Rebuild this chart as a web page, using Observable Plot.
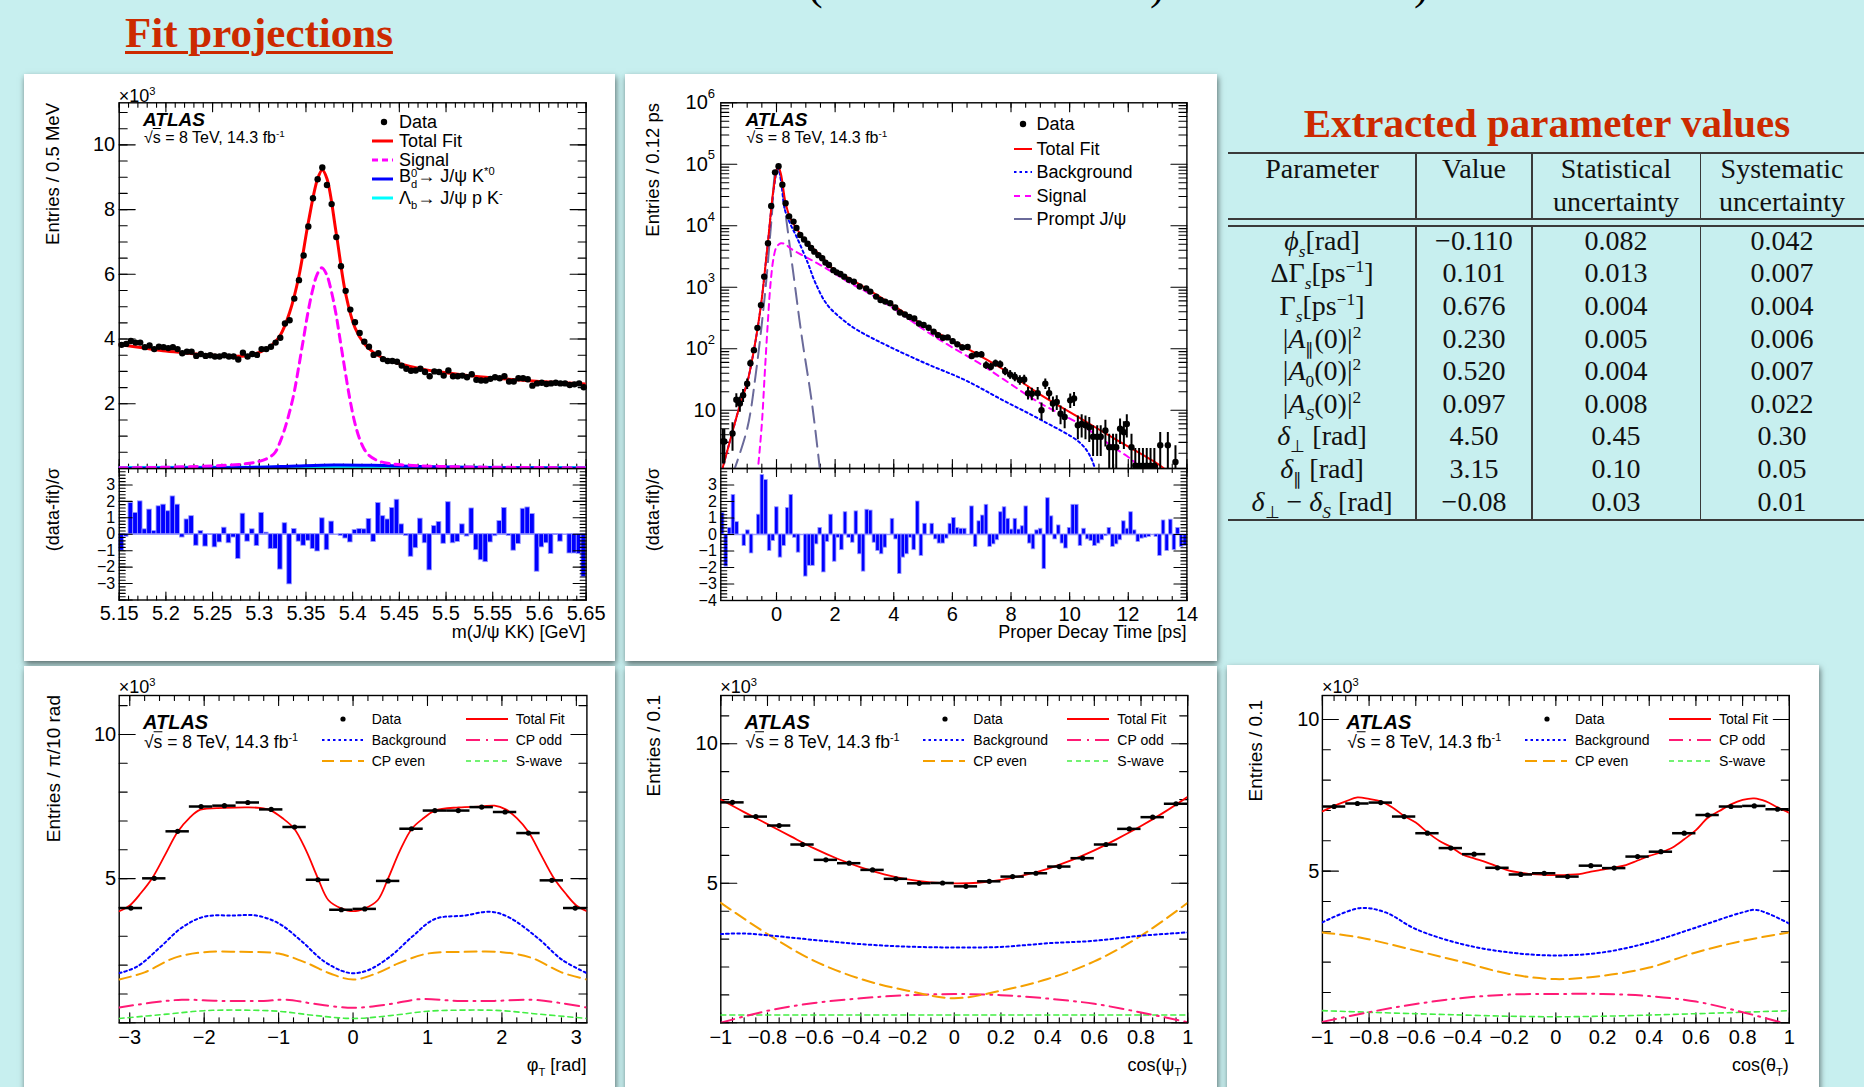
<!DOCTYPE html>
<html><head><meta charset="utf-8">
<script src="https://cdn.jsdelivr.net/npm/d3@7"></script>
<script src="https://cdn.jsdelivr.net/npm/@observablehq/plot@0.6"></script>
<style>
html,body{margin:0;padding:0}
body{width:1864px;height:1087px;overflow:hidden;background:#c7efef;position:relative;font-family:"Liberation Sans",Arial,sans-serif;color:#000}
.box{position:absolute;background:#fff;box-shadow:1px 3px 6px rgba(0,0,0,0.55)}
.t{position:absolute;white-space:nowrap;line-height:1}
.lv{transform:translateY(-50%)}
.rv{transform:translate(-100%,-50%)}
.cc{transform:translate(-50%,-50%)}
.rot{transform-origin:0 0;transform:rotate(-90deg) translate(-100%,-50%)}
.t sup,.t sub{font-size:0.62em;line-height:0}
.st{display:inline-block;font-size:0.62em;line-height:1;vertical-align:-6px}
.serif{font-family:"Liberation Serif","Times New Roman",serif;font-size:28px;color:#111}
.hl{position:absolute;background:#3a3a3a}
.atlas{font-weight:bold;font-style:italic}
svg{overflow:visible}
</style></head><body>
<script>
// ===================== DATA =====================
// Panel 1 : m(J/psi KK)
const massBinLo = 5.15, massBinWidth = 0.005;
const massCounts = [3.82,3.85,3.94,3.89,3.89,3.75,3.80,3.69,3.76,3.75,3.72,3.75,3.69,3.56,3.61,3.61,3.48,3.54,3.48,3.50,
  3.46,3.46,3.50,3.46,3.46,3.37,3.58,3.46,3.54,3.51,3.69,3.69,3.76,3.89,4.04,4.48,4.58,5.25,5.82,6.58,
  7.48,8.35,8.94,9.30,8.76,8.17,7.15,6.25,5.49,4.91,4.52,4.19,3.92,3.76,3.51,3.56,3.38,3.32,3.32,3.30,
  3.18,3.08,3.02,3.03,3.08,2.98,2.85,3.00,2.98,2.87,3.03,2.85,2.85,2.87,2.82,2.91,2.74,2.72,2.72,2.77,
  2.82,2.79,2.85,2.69,2.69,2.79,2.79,2.76,2.56,2.63,2.65,2.61,2.63,2.65,2.63,2.63,2.58,2.60,2.63,2.51];
const massFitX = [5.15,5.175,5.20,5.225,5.25,5.275,5.29,5.3025,5.3125,5.3225,5.3325,5.3425,5.3525,5.3625,5.3675,5.3725,5.3825,5.3925,5.4025,5.4125,5.4225,5.435,5.45,5.475,5.50,5.525,5.55,5.575,5.60,5.625,5.65];
const massFitY = [3.83,3.73,3.63,3.56,3.50,3.47,3.50,3.62,3.78,4.12,4.82,5.95,7.60,8.95,9.22,8.95,7.25,5.40,4.35,3.85,3.58,3.38,3.24,3.07,2.96,2.87,2.80,2.74,2.69,2.65,2.61];
const massSigX = [5.15,5.20,5.25,5.28,5.30,5.31,5.317,5.322,5.327,5.332,5.337,5.342,5.347,5.352,5.357,5.362,5.367,5.372,5.377,5.382,5.387,5.392,5.397,5.402,5.407,5.412,5.417,5.427,5.44,5.46,5.50,5.55,5.60,5.65];
const massSigY = [0.02,0.04,0.08,0.13,0.22,0.33,0.5,0.8,1.2,1.7,2.3,3.1,3.95,4.8,5.5,6.0,6.2,6.0,5.5,4.8,3.9,3.0,2.15,1.45,0.95,0.62,0.42,0.24,0.15,0.1,0.06,0.04,0.03,0.02];
const massBdX = [5.15,5.25,5.30,5.34,5.38,5.42,5.46,5.52,5.58,5.65];
const massBdY = [0.01,0.02,0.04,0.08,0.11,0.10,0.07,0.04,0.02,0.01];
const massLbX = [5.15,5.30,5.45,5.65];
const massLbY = [0.03,0.04,0.04,0.03];
const massPull = [-1.0,-0.15,1.9,1.3,2.0,0.3,1.5,0.2,1.7,1.8,1.4,2.3,1.8,-0.2,0.9,1.1,-0.7,0.2,-0.75,-0.05,
  -0.8,-0.5,0.4,-0.55,-0.2,-1.5,1.25,-0.45,0.3,-0.72,1.3,0.1,-0.9,-0.9,-2.15,0.67,-3.05,0.32,-0.45,-0.7,
  -0.4,-0.9,-1.05,0.97,-0.97,0.77,0,-0.1,-0.26,-0.5,0.26,0.32,0.3,0.93,-0.47,1.9,1.1,0.9,1.6,2.1,
  0.6,-0.1,-1.37,-0.85,0.95,-0.55,-2.2,0.5,0.75,-0.58,1.95,-0.55,-0.47,0.6,-0.14,1.57,-0.97,-1.58,-1.7,-0.5,
  -0.12,0.8,1.6,-0.1,-1.0,-0.6,1.55,1.63,1.23,-2.28,-0.8,-0.55,-1.2,-0.05,-0.45,0,-1.17,-1.17,-1.2,-2.6];

// Panel 2 : proper decay time
const timeData = [-1.83,-1.78,-1.50,-1.37,-1.25,-1.14,-1.00,-0.89,-0.77,-0.65,-0.53,-0.42,-0.29,-0.18,-0.05,0.07,0.20,0.31,0.43,0.58,
  0.68,0.81,0.94,1.06,1.18,1.29,1.43,1.56,1.67,1.79,1.94,2.05,2.18,2.31,2.47,2.64,2.84,3.06,3.20,3.40,
  3.55,3.71,3.88,4.05,4.21,4.38,4.53,4.70,4.86,5.02,5.19,5.36,5.51,5.68,5.84,6.01,6.17,6.34,6.52,6.66,
  6.82,6.99,7.15,7.31,7.47,7.63,7.80,7.97,8.13,8.30,8.45,8.58,8.71,8.91,9.04,9.17,9.30,9.43,9.56,9.69,
  9.83,10.02,10.15,10.28,10.41,10.54,10.67,10.80,10.94,11.06,11.22,11.35,11.48,11.59,11.72,11.85,11.95,12.11,12.24,12.37,
  12.50,12.63,12.76,12.89,13.09,13.35,13.61];
const timeCounts = [3.1,3.1,4.2,14.8,12.9,17.6,27,58,95,219,513,1490,5200,21000,74000,93000,46500,23300,14200,11700,
  9200,7100,6000,5100,4350,3800,3330,2970,2520,2300,1900,1750,1640,1490,1320,1230,1030,960,850,705,
  620,585,550,470,390,360,330,310,257,243,220,190,167,151,153,133,118,105,107,76,
  81,81,54,51,58,56,43,38,35,31,31.6,19,18.6,19,10,27,19,12.9,13.6,8.8,
  7.8,14.5,15.5,5.7,6,5.7,5.3,3.7,3.7,3.7,4.7,2.5,2.5,2.5,5.0,4.4,6,2.5,1.26,1.26,
  1.26,1.26,1.26,1.26,2.7,2.7,1.44];
const timeFitX = [-1.9,-1.5,-1.25,-1.0,-0.77,-0.53,-0.3,-0.1,0.05,0.15,0.3,0.45,0.7,1.0,1.5,2.0,2.5,3.0,3.8,4.5,5.13,6.0,6.44,7.0,7.74,8.5,9.04,10.34,11.6,13.0,13.3];
const timeFitY = [0.9,4.5,12,28,95,510,5000,40000,95000,70000,25000,14000,8800,5600,3300,1850,1380,1000,580,350,225,135,105,74,46,26,17.5,7.5,3.3,1.35,1.05];
const timeBkgX = [-1.9,-1.5,-1.25,-1.0,-0.77,-0.53,-0.3,-0.1,0.05,0.15,0.29,0.5,0.68,1.07,1.33,1.73,2.25,2.77,3.82,5.12,6.43,7.73,9.04,10.34,10.7,10.9];
const timeBkgY = [0.9,4.5,12,28,95,510,5000,38000,90000,55000,18000,10000,6700,2470,1170,520,300,200,110,57,31,14.5,6.9,3.0,1.8,1.0];
const timeSigX = [-0.65,-0.5,-0.4,-0.3,-0.2,-0.1,0.0,0.15,0.3,0.5,1.0,1.5,2.0,2.5,3.0,4.0,5.13,6.0,7.0,7.74,9.0,10.34,11.5,12.17,12.5];
const timeSigY = [0.9,6,40,250,1200,3000,4500,5200,5000,4200,3100,2300,1650,1180,880,450,190,105,55,32,13,6,2.5,1.5,1.0];
const timePromptX = [-1.5,-1.0,-0.69,-0.37,-0.17,0.0,0.1,0.29,0.56,0.86,1.21,1.5];
const timePromptY = [0.9,5,45,1000,12600,85000,75000,18000,1900,160,13,0.9];
const timeBinLo = -1.9, timeBinWidth = 0.1233;
const timePull = [1.3,-1.95,0.4,2.4,0.75,0,-0.7,0.25,-1.15,0,1.2,3.6,3.3,-1.0,-0.4,1.65,-1.4,-0.7,1.6,2.4,
  -0.2,-1.1,0,-2.55,-1.9,-1.9,-0.6,0.4,-2.3,-0.45,1.2,-1.65,-0.2,-0.95,1.35,-0.2,-0.5,1.4,-1.2,-2.25,
  1.5,1.45,-0.5,-1.0,-1.2,-0.8,0,0.95,-0.3,-2.4,-1.4,-1.2,-0.2,-0.95,2.0,-1.3,0.65,0,0.65,-0.3,
  -0.55,-0.55,-0.25,0.65,1.0,0.4,0.35,0.35,0,1.7,-0.75,0.8,1.15,1.8,-0.75,-0.6,-0.35,1.35,1.65,0.95,
  0.3,0.95,0.3,0.5,1.7,-0.55,-0.9,0.25,0.35,-2.1,2.2,1.1,-0.3,0.55,-0.55,-0.85,0.4,1.8,1.8,-0.7,
  0.35,-0.3,-0.4,-0.7,-0.55,-0.35,-0.1,0.4,-0.75,-0.6,-0.35,0.8,0.35,1.35,0.25,-0.45,-0.25,-0.2,-0.15,0,
  -0.15,-1.3,0.85,-1.0,0.9,-0.95,0.4,-0.75,-0.7];

// Panel 3 : phi_T
const phiBinLo = -Math.PI, phiBinWidth = Math.PI / 10;
const phiCounts = [3.98,5.01,6.64,7.50,7.53,7.64,7.40,6.79,4.96,3.92,3.95,4.92,6.73,7.36,7.36,7.48,7.31,6.58,4.94,3.98];
const phiFitX = [-3.1416,-3.0,-2.85,-2.69,-2.52,-2.36,-2.2,-2.05,-1.73,-1.42,-1.25,-1.1,-0.95,-0.79,-0.63,-0.47,-0.33,-0.16,0,0.16,0.33,0.47,0.63,0.79,0.95,1.1,1.42,1.73,1.9,2.05,2.2,2.36,2.52,2.69,2.85,3.0,3.1416];
const phiFitY = [3.87,4.07,4.5,5.05,5.85,6.61,7.1,7.39,7.45,7.47,7.45,7.36,7.1,6.73,5.97,5.0,4.25,3.97,3.87,3.97,4.25,5.0,5.97,6.73,7.1,7.36,7.47,7.5,7.53,7.4,7.1,6.61,5.85,5.05,4.5,4.07,3.87];
const phiBkgX = [-3.1416,-2.9,-2.6,-2.3,-2.0,-1.6,-1.3,-1.0,-0.7,-0.4,-0.15,0,0.2,0.5,0.8,1.1,1.5,1.85,2.1,2.5,2.8,3.1416];
const phiBkgY = [1.72,1.95,2.6,3.3,3.68,3.72,3.72,3.45,2.85,2.15,1.8,1.72,1.82,2.3,3.0,3.6,3.72,3.85,3.65,2.9,2.2,1.72];
const phiEvenX = [-3.1416,-2.8,-2.4,-2.0,-1.5,-1.0,-0.6,-0.3,0,0.3,0.6,1.0,1.5,2.0,2.4,2.8,3.1416];
const phiEvenY = [1.5,1.75,2.25,2.45,2.46,2.4,2.05,1.7,1.5,1.7,2.05,2.4,2.46,2.45,2.25,1.75,1.5];
const phiOddX = [-3.1416,-2.7,-2.3,-1.8,-1.2,-0.9,-0.5,0,0.5,0.9,1.4,1.9,2.4,2.8,3.1416];
const phiOddY = [0.53,0.7,0.8,0.76,0.76,0.8,0.65,0.52,0.65,0.82,0.76,0.76,0.8,0.68,0.53];
const phiSwX = [-3.1416,-2.5,-2.0,-1.5,-1.0,-0.5,0,0.5,1.0,1.5,2.0,2.5,3.1416];
const phiSwY = [0.15,0.3,0.42,0.44,0.4,0.25,0.15,0.25,0.4,0.44,0.42,0.3,0.15];

// Panel 4 : cos(psi_T)
const cosBinLo = -1, cosBinWidth = 0.1;
const psiCounts = [7.90,7.39,7.07,6.39,5.84,5.72,5.48,5.16,5.00,5.01,4.89,5.07,5.24,5.36,5.60,5.90,6.39,6.95,7.37,7.85];
const psiFitX = [-1,-0.9,-0.8,-0.7,-0.6,-0.5,-0.4,-0.3,-0.2,-0.1,0,0.1,0.2,0.3,0.4,0.5,0.6,0.7,0.8,0.9,1];
const psiFitY = [8.0,7.55,7.12,6.68,6.25,5.88,5.57,5.32,5.14,5.03,5.0,5.02,5.12,5.29,5.52,5.82,6.18,6.6,7.05,7.55,8.1];
const psiBkgX = [-1,-0.9,-0.6,-0.4,-0.2,0,0.2,0.4,0.6,0.8,1];
const psiBkgY = [3.18,3.2,2.97,2.82,2.73,2.7,2.72,2.85,2.94,3.12,3.24];
const psiEvenX = [-1,-0.8,-0.6,-0.4,-0.2,0,0.2,0.4,0.6,0.8,1];
const psiEvenY = [4.3,3.18,2.22,1.57,1.15,0.88,1.15,1.57,2.2,3.12,4.3];
const psiOddX = [-1,-0.8,-0.6,-0.4,-0.2,0,0.2,0.4,0.6,0.8,1];
const psiOddY = [0.0,0.43,0.71,0.88,0.99,1.03,0.99,0.87,0.68,0.37,0.02];
const psiSwX = [-1,1];
const psiSwY = [0.28,0.28];

// Panel 5 : cos(theta_T)
const thCounts = [7.13,7.23,7.26,6.80,6.25,5.76,5.56,5.11,4.89,4.93,4.82,5.18,5.10,5.48,5.64,6.25,6.85,7.13,7.15,7.04];
const thFitX = [-1,-0.95,-0.9,-0.85,-0.8,-0.75,-0.7,-0.65,-0.6,-0.55,-0.5,-0.45,-0.4,-0.35,-0.3,-0.25,-0.2,-0.15,-0.1,-0.05,0,0.05,0.1,0.15,0.2,0.25,0.3,0.35,0.4,0.45,0.5,0.55,0.6,0.65,0.7,0.75,0.8,0.85,0.9,0.95,1];
const thFitY = [6.97,7.15,7.3,7.43,7.38,7.3,7.1,6.82,6.6,6.28,6.0,5.8,5.55,5.42,5.3,5.15,5.02,4.95,4.9,4.88,4.87,4.88,4.9,4.98,5.05,5.12,5.2,5.35,5.5,5.62,5.78,6.05,6.35,6.75,6.98,7.2,7.35,7.4,7.3,7.1,6.92];
const thBkgX = [-1,-0.84,-0.73,-0.6,-0.4,-0.2,0,0.2,0.4,0.6,0.8,0.86,1];
const thBkgY = [3.31,3.78,3.64,3.09,2.59,2.32,2.22,2.32,2.65,3.14,3.64,3.72,3.27];
const thEvenX = [-1,-0.84,-0.6,-0.4,-0.2,0,0.2,0.4,0.6,0.8,1];
const thEvenY = [2.98,2.81,2.38,2.0,1.61,1.44,1.55,1.82,2.32,2.7,2.98];
const thOddX = [-1,-0.8,-0.6,-0.4,-0.2,0,0.2,0.4,0.6,0.8,0.97];
const thOddY = [0.03,0.35,0.62,0.82,0.93,0.95,0.95,0.88,0.7,0.35,0.0];
const thSwX = [-1,-0.6,0,0.6,1];
const thSwY = [0.4,0.3,0.2,0.3,0.4];

// Table
const tableParams = ["<i>ϕ</i><sub><i>s</i></sub>[rad]", "ΔΓ<sub><i>s</i></sub>[ps<sup>−1</sup>]", "Γ<sub><i>s</i></sub>[ps<sup>−1</sup>]",
  "|<i>A</i><sub>∥</sub>(0)|<sup>2</sup>", "|<i>A</i><sub>0</sub>(0)|<sup>2</sup>", "|<i>A</i><sub><i>S</i></sub>(0)|<sup>2</sup>",
  "<i>δ</i><sub>⊥</sub> [rad]", "<i>δ</i><sub>∥</sub> [rad]", "<i>δ</i><sub>⊥</sub> − <i>δ</i><sub><i>S</i></sub> [rad]"];
const tableValues = ["−0.110","0.101","0.676","0.230","0.520","0.097","4.50","3.15","−0.08"];
const tableStat = ["0.082","0.013","0.004","0.005","0.004","0.008","0.45","0.10","0.03"];
const tableSyst = ["0.042","0.007","0.004","0.006","0.007","0.022","0.30","0.05","0.01"];

// ===================== HELPERS =====================
const FONT = '"Liberation Sans", Arial, sans-serif';
const fmt = d3.format("~g");
const RED = "#ff0000", MAG = "#ff00ff", BLUE = "#0000ff", CYAN = "#00ffff", PROMPT = "#6a6a9a",
      ORANGE = "#f5a000", PINK = "#ff1a75", GREEN = "#44ee44";
const tickShape = {draw(c, l) { c.moveTo(0, 0); c.lineTo(0, -l); }};

function frameTicks({xMaj = [], xMin = [], yMaj = [], yMin = [], xl = [9, 4.5], yl = [16, 8]}) {
  const V = (data, o) => Plot.vector(data, {...o, anchor: "start", shape: tickShape, stroke: "black", strokeWidth: 1.1});
  const out = [];
  [[xMaj, xl[0]], [xMin, xl[1]]].forEach(([a, l]) => {
    out.push(V(a, {x: d => d, frameAnchor: "bottom", rotate: 0, length: l}));
    out.push(V(a, {x: d => d, frameAnchor: "top", rotate: 180, length: l}));
  });
  [[yMaj, yl[0]], [yMin, yl[1]]].forEach(([a, l]) => {
    out.push(V(a, {y: d => d, frameAnchor: "left", rotate: 90, length: l}));
    out.push(V(a, {y: d => d, frameAnchor: "right", rotate: 270, length: l}));
  });
  return out;
}
function mk(o) {
  const svg = Plot.plot({
    width: o.width, height: o.height,
    marginLeft: o.ml, marginRight: o.mr, marginTop: o.mt, marginBottom: o.mb,
    x: o.x, y: o.y,
    style: {background: "transparent", overflow: "visible", fontFamily: FONT, fontSize: "20px", color: "black"},
    marks: o.marks
  });
  Object.assign(svg.style, {position: "absolute", left: o.left + "px", top: o.top + "px"});
  document.body.appendChild(svg);
}
function box(x, y, w, h) {
  const d = document.createElement("div"); d.className = "box";
  d.style.cssText = `left:${x}px;top:${y}px;width:${w}px;height:${h}px`;
  document.body.appendChild(d);
}
function T(html, x, y, cls = "lv", style = "") {
  const d = document.createElement("div");
  d.className = "t " + cls;
  d.style.cssText = `left:${x}px;top:${y}px;${style}`;
  d.innerHTML = html;
  document.body.appendChild(d);
}
function swLine(x1, x2, y, color, dash, w) {
  document.body.insertAdjacentHTML("beforeend",
    `<svg width="${x2 - x1}" height="12" style="position:absolute;left:${x1}px;top:${y - 6}px"><line x1="0" y1="6" x2="${x2 - x1}" y2="6" stroke="${color}" stroke-width="${w}" ${dash ? `stroke-dasharray="${dash}"` : ""}/></svg>`);
}
function swDot(cx, y, r) {
  document.body.insertAdjacentHTML("beforeend",
    `<svg width="12" height="12" style="position:absolute;left:${cx - 6}px;top:${y - 6}px"><circle cx="6" cy="6" r="${r}" fill="black"/></svg>`);
}
const idx = a => a.map((_, i) => i);
const range = (a, b, s) => d3.range(a, b + s * 1e-3, s);

// ===================== PAGE DECORATION =====================
T("(", 808, -37, "", 'font-family:"Liberation Serif",serif;font-size:44px');
T(")", 1150, -37, "", 'font-family:"Liberation Serif",serif;font-size:44px');
T(")", 1414, -37, "", 'font-family:"Liberation Serif",serif;font-size:44px');
T("Fit projections", 125, 11, "", 'font-family:"Liberation Serif",serif;font-size:43px;font-weight:bold;color:#cc2a00;text-decoration:underline;text-decoration-thickness:3px;text-underline-offset:4px');

box(24, 74, 591, 587);
box(625, 74, 592, 587);
box(24, 666, 591, 430);
box(625, 666, 592, 430);
box(1227, 665, 592, 430);

// ===================== PANEL 1 =====================
const massX = massCounts.map((_, i) => massBinLo + (i + 0.5) * massBinWidth);
mk({left: 24, top: 74, width: 591, height: 394, ml: 94.7, mr: 29.4, mt: 28.3, mb: 0,
  x: {domain: [5.15, 5.65], axis: null}, y: {domain: [0, 11.3]},
  marks: [
    Plot.frame({stroke: "black", strokeWidth: 1.4}),
    ...frameTicks({xMaj: range(5.15, 5.65, 0.05), xMin: range(5.15, 5.65, 0.01), yMaj: [0, 2, 4, 6, 8, 10], yMin: range(0, 11, 0.5)}),
    Plot.axisY({ticks: [2, 4, 6, 8, 10], tickSize: 0, tickPadding: 4, tickFormat: fmt, fontSize: 20, label: null}),
    Plot.line(massLbX, {x: massLbX, y: massLbY, stroke: CYAN, strokeWidth: 3, curve: "catmull-rom", clip: true}),
    Plot.line(massBdX, {x: massBdX, y: massBdY, stroke: BLUE, strokeWidth: 3, curve: "catmull-rom", clip: true}),
    Plot.line(massSigX, {x: massSigX, y: massSigY, stroke: MAG, strokeWidth: 3, strokeDasharray: "8,6", curve: "catmull-rom", clip: true}),
    Plot.line(massFitX, {x: massFitX, y: massFitY, stroke: RED, strokeWidth: 3, curve: "catmull-rom", clip: true}),
    Plot.dot(massCounts, {x: massX, y: massCounts, r: 3.2, fill: "black"})
  ]});
mk({left: 24, top: 468, width: 591, height: 195, ml: 94.7, mr: 29.4, mt: 0, mb: 63.5,
  x: {domain: [5.15, 5.65]}, y: {domain: [-4, 4]},
  marks: [
    Plot.ruleY([0], {stroke: "#9a9aff", strokeWidth: 1.5}),
    Plot.rect(massPull, {x1: idx(massPull).map(i => massBinLo + i * massBinWidth), x2: idx(massPull).map(i => massBinLo + (i + 1) * massBinWidth),
      y1: 0, y2: massPull, fill: BLUE, stroke: "#9a9aff", strokeWidth: 0.8}),
    Plot.frame({stroke: "black", strokeWidth: 1.4}),
    ...frameTicks({xMaj: range(5.15, 5.65, 0.05), xMin: range(5.15, 5.65, 0.01), yMaj: range(-4, 4, 1), yMin: range(-4, 4, 0.2), xl: [8, 4], yl: [13, 6]}),
    Plot.axisX({ticks: [5.15, 5.2, 5.25, 5.3, 5.35, 5.4, 5.45, 5.5, 5.55, 5.6, 5.65], tickSize: 0, tickPadding: 6, tickFormat: fmt, fontSize: 20, label: null}),
    Plot.axisY({ticks: [-3, -2, -1, 0, 1, 2, 3], tickSize: 0, tickPadding: 4, tickFormat: fmt, fontSize: 16, label: null})
  ]});
T("×10<sup>3</sup>", 118.7, 96, "lv", "font-size:18px");
T("ATLAS", 143, 119.3, "lv atlas", "font-size:19px");
T("√<span style='text-decoration:overline'>s</span> = 8 TeV, 14.3 fb<sup>-1</sup>", 144, 138.3, "lv", "font-size:16px");
{
  const ys = [122.3, 140.7, 160, 179.3, 197.7];
  swDot(383.5, ys[0], 3.2); T("Data", 399, ys[0], "lv", "font-size:18px");
  swLine(372, 393, ys[1], RED, null, 3); T("Total Fit", 399, ys[1], "lv", "font-size:18px");
  swLine(372, 393, ys[2], MAG, "6,4", 3); T("Signal", 399, ys[2], "lv", "font-size:18px");
  swLine(372, 393, ys[3], BLUE, null, 3); T("B<span class='st'>0<br>d</span>→ J/ψ K<sup>*0</sup>", 399, ys[3], "lv", "font-size:18px");
  swLine(372, 393, ys[4], CYAN, null, 3); T("Λ<sub>b</sub>→ J/ψ p K<sup>-</sup>", 399, ys[4], "lv", "font-size:18px");
}
T("Entries / 0.5 MeV", 52.5, 103.3, "rot", "font-size:18.5px");
T("(data-fit)/σ", 52.5, 468.3, "rot", "font-size:18px");
T("m(J/ψ KK) [GeV]", 585.6, 631.7, "rv", "font-size:18px");

// ===================== PANEL 2 =====================
const logMinor = [];
for (let e = 0; e < 6; e++) for (let k = 2; k <= 9; k++) { const v = k * 10 ** e; if (v > 1.13) logMinor.push(v); }
const decadesExp = [100, 1000, 1e4, 1e5, 1e6];
mk({left: 625, top: 74, width: 592, height: 394, ml: 95.3, mr: 30.6, mt: 28.3, mb: 0,
  x: {domain: [-1.9, 14], axis: null}, y: {type: "log", domain: [1.13, 1e6], axis: null},
  marks: [
    Plot.frame({stroke: "black", strokeWidth: 1.4}),
    ...frameTicks({xMaj: range(0, 14, 2), xMin: range(-1.5, 14, 0.5), yMaj: [10, 100, 1000, 1e4, 1e5, 1e6], yMin: logMinor}),
    Plot.text(decadesExp, {y: d => d, frameAnchor: "left", text: () => "10", textAnchor: "end", dx: -13, fontSize: 20}),
    Plot.text(decadesExp, {y: d => d, frameAnchor: "left", text: d => String(Math.round(Math.log10(d))), textAnchor: "start", dx: -13, dy: -9, fontSize: 13}),
    Plot.text([10], {y: d => d, frameAnchor: "left", text: () => "10", textAnchor: "end", dx: -5, fontSize: 20}),
    Plot.line(timePromptX, {x: timePromptX, y: timePromptY, stroke: PROMPT, strokeWidth: 2, strokeDasharray: "16,8", curve: "catmull-rom", clip: true}),
    Plot.line(timeSigX, {x: timeSigX, y: timeSigY, stroke: MAG, strokeWidth: 2, strokeDasharray: "6,5", curve: "catmull-rom", clip: true}),
    Plot.line(timeBkgX, {x: timeBkgX, y: timeBkgY, stroke: BLUE, strokeWidth: 2, strokeDasharray: "2.5,3", curve: "catmull-rom", clip: true}),
    Plot.line(timeFitX, {x: timeFitX, y: timeFitY, stroke: RED, strokeWidth: 2, curve: "catmull-rom", clip: true}),
    Plot.ruleX(timeCounts, {x: timeData, y1: timeCounts.map(v => v - Math.sqrt(v)), y2: timeCounts.map(v => v + Math.sqrt(v)), stroke: "black", strokeWidth: 2, clip: true}),
    Plot.dot(timeCounts, {x: timeData, y: timeCounts, r: 3.2, fill: "black", clip: true})
  ]});
mk({left: 625, top: 468, width: 592, height: 195, ml: 95.3, mr: 30.6, mt: 0, mb: 63,
  x: {domain: [-1.9, 14]}, y: {domain: [-4, 4]},
  marks: [
    Plot.ruleY([0], {stroke: "#9a9aff", strokeWidth: 1.5}),
    Plot.rect(timePull, {x1: idx(timePull).map(i => timeBinLo + i * timeBinWidth), x2: idx(timePull).map(i => timeBinLo + (i + 1) * timeBinWidth),
      y1: 0, y2: timePull, fill: BLUE, stroke: "#9a9aff", strokeWidth: 0.8}),
    Plot.frame({stroke: "black", strokeWidth: 1.4}),
    ...frameTicks({xMaj: range(0, 14, 2), xMin: range(-1.5, 14, 0.5), yMaj: range(-4, 4, 1), yMin: range(-4, 4, 0.2), xl: [8, 4], yl: [13, 6]}),
    Plot.axisX({ticks: range(0, 14, 2), tickSize: 0, tickPadding: 6, tickFormat: fmt, fontSize: 20, label: null}),
    Plot.axisY({ticks: [-4, -3, -2, -1, 0, 1, 2, 3], tickSize: 0, tickPadding: 4, tickFormat: fmt, fontSize: 16, label: null})
  ]});
T("ATLAS", 745.5, 119.3, "lv atlas", "font-size:19px");
T("√<span style='text-decoration:overline'>s</span> = 8 TeV, 14.3 fb<sup>-1</sup>", 746.5, 138.3, "lv", "font-size:16px");
{
  const ys = [124.3, 149, 172.3, 196, 219];
  swDot(1022.6, ys[0], 3.2); T("Data", 1036.4, ys[0], "lv", "font-size:18px");
  swLine(1014, 1032, ys[1], RED, null, 2); T("Total Fit", 1036.4, ys[1], "lv", "font-size:18px");
  swLine(1014, 1032, ys[2], BLUE, "2.5,3", 2); T("Background", 1036.4, ys[2], "lv", "font-size:18px");
  swLine(1014, 1032, ys[3], MAG, "6,5", 2); T("Signal", 1036.4, ys[3], "lv", "font-size:18px");
  swLine(1014, 1032, ys[4], PROMPT, null, 2); T("Prompt J/ψ", 1036.4, ys[4], "lv", "font-size:18px");
}
T("Entries / 0.12 ps", 652.5, 103.3, "rot", "font-size:18.5px");
T("(data-fit)/σ", 652.5, 468.3, "rot", "font-size:18px");
T("Proper Decay Time [ps]", 1186.4, 631.7, "rv", "font-size:18px");

// ===================== ANGULAR PANELS =====================
function angPanel(o) {
  const frameT = 695, frameB = 1022.3, svgTop = 666, svgH = 421;
  const xc = o.counts.map((_, i) => o.lo + (i + 0.5) * o.w);
  const x1 = o.counts.map((_, i) => o.lo + i * o.w);
  const x2 = o.counts.map((_, i) => o.lo + (i + 1) * o.w);
  mk({left: o.svgLeft, top: svgTop, width: o.svgW, height: svgH, ml: o.L - o.svgLeft, mr: o.svgLeft + o.svgW - o.R, mt: frameT - svgTop, mb: svgTop + svgH - frameB,
    x: {domain: o.xDomain}, y: {domain: o.yDomain},
    marks: [
      Plot.frame({stroke: "black", strokeWidth: 1.4}),
      ...frameTicks({xMaj: o.xMaj, xMin: o.xMin, yMaj: [0, 5, 10], yMin: range(0, Math.floor(o.yDomain[1]), 1), xl: [10, 5], yl: [16, 8]}),
      Plot.axisX({ticks: o.xMaj, tickSize: 0, tickPadding: 6.5, tickFormat: fmt, fontSize: 20, label: null}),
      Plot.axisY({ticks: [5, 10], tickSize: 0, tickPadding: 3, tickFormat: fmt, fontSize: 20, label: null}),
      Plot.line(o.sw[0], {x: o.sw[0], y: o.sw[1], stroke: GREEN, strokeWidth: 1.6, strokeDasharray: "5,4", curve: "catmull-rom", clip: true}),
      Plot.line(o.odd[0], {x: o.odd[0], y: o.odd[1], stroke: PINK, strokeWidth: 2, strokeDasharray: "14,6,2,6", curve: "catmull-rom", clip: true}),
      Plot.line(o.even[0], {x: o.even[0], y: o.even[1], stroke: ORANGE, strokeWidth: 2, strokeDasharray: "12,6", curve: "catmull-rom", clip: true}),
      Plot.line(o.bkg[0], {x: o.bkg[0], y: o.bkg[1], stroke: BLUE, strokeWidth: 2, strokeDasharray: "2.5,3", curve: "catmull-rom", clip: true}),
      Plot.line(o.fit[0], {x: o.fit[0], y: o.fit[1], stroke: RED, strokeWidth: 1.8, curve: "catmull-rom", clip: true}),
      Plot.ruleY(o.counts, {y: o.counts, x1, x2, stroke: "black", strokeWidth: 2.5}),
      Plot.dot(o.counts, {x: xc, y: o.counts, r: 2.6, fill: "black"})
    ]});
  const L = o.L, Tp = frameT;
  T("×10<sup>3</sup>", L, 686.7, "lv", "font-size:18px");
  T("ATLAS", L + 24.3, Tp + 26.7, "lv atlas", "font-size:20px");
  T("√<span style='text-decoration:overline'>s</span> = 8 TeV, 14.3 fb<sup>-1</sup>", L + 25.3, Tp + 47.7, "lv", "font-size:17.5px");
  const ys = [Tp + 24.3, Tp + 45, Tp + 66];
  const fs = "font-size:14px";
  swDot(L + 224.7, ys[0], 2.6); T("Data", L + 253, ys[0], "lv", fs);
  swLine(L + 347, L + 389, ys[0], RED, null, 2); T("Total Fit", L + 397, ys[0], "lv", fs);
  swLine(L + 203, L + 245, ys[1], BLUE, "2.5,3", 2); T("Background", L + 253, ys[1], "lv", fs);
  swLine(L + 347, L + 389, ys[1], PINK, "14,6,2,6", 2); T("CP odd", L + 397, ys[1], "lv", fs);
  swLine(L + 203, L + 245, ys[2], ORANGE, "12,6", 2); T("CP even", L + 253, ys[2], "lv", fs);
  swLine(L + 347, L + 389, ys[2], GREEN, "5,4", 1.6); T("S-wave", L + 397, ys[2], "lv", fs);
  T(o.ytitle, o.ytx, o.yty, "rot", "font-size:19px");
  T(o.xtitle, o.R, 1065, "rv", "font-size:18px");
}
angPanel({svgLeft: 24, svgW: 591, L: 118.7, R: 586.4, xDomain: [-Math.PI, Math.PI], yDomain: [0, 11.35],
  xMaj: [-3, -2, -1, 0, 1, 2, 3], xMin: range(-3, 3, 0.2),
  counts: phiCounts, lo: phiBinLo, w: phiBinWidth,
  fit: [phiFitX, phiFitY], bkg: [phiBkgX, phiBkgY], even: [phiEvenX, phiEvenY], odd: [phiOddX, phiOddY], sw: [phiSwX, phiSwY],
  ytitle: "Entries / π/10 rad", ytx: 52.5, yty: 695, xtitle: "φ<sub>T</sub> [rad]"});
angPanel({svgLeft: 625, svgW: 592, L: 720.3, R: 1187.2, xDomain: [-1, 1], yDomain: [0, 11.73],
  xMaj: [-1, -0.8, -0.6, -0.4, -0.2, 0, 0.2, 0.4, 0.6, 0.8, 1], xMin: range(-1, 1, 0.05),
  counts: psiCounts, lo: cosBinLo, w: cosBinWidth,
  fit: [psiFitX, psiFitY], bkg: [psiBkgX, psiBkgY], even: [psiEvenX, psiEvenY], odd: [psiOddX, psiOddY], sw: [psiSwX, psiSwY],
  ytitle: "Entries / 0.1", ytx: 652.5, yty: 695, xtitle: "cos(ψ<sub>T</sub>)"});
angPanel({svgLeft: 1227, svgW: 592, L: 1321.9, R: 1788.8, xDomain: [-1, 1], yDomain: [0, 10.79],
  xMaj: [-1, -0.8, -0.6, -0.4, -0.2, 0, 0.2, 0.4, 0.6, 0.8, 1], xMin: range(-1, 1, 0.05),
  counts: thCounts, lo: cosBinLo, w: cosBinWidth,
  fit: [thFitX, thFitY], bkg: [thBkgX, thBkgY], even: [thEvenX, thEvenY], odd: [thOddX, thOddY], sw: [thSwX, thSwY],
  ytitle: "Entries / 0.1", ytx: 1254.9, yty: 700, xtitle: "cos(θ<sub>T</sub>)"});

// ===================== TABLE =====================
T("Extracted parameter values", 1547, 103, "", 'transform:translateX(-50%);font-family:"Liberation Serif",serif;font-size:41px;font-weight:bold;color:#cc2a00');
function hl(x, y, w, h) { const d = document.createElement("div"); d.className = "hl"; d.style.cssText = `left:${x}px;top:${y}px;width:${w}px;height:${h}px`; document.body.appendChild(d); }
hl(1228, 152.3, 636, 2); hl(1228, 218.3, 636, 2); hl(1228, 225, 636, 2); hl(1228, 519, 636, 2);
for (const vx of [1415.3, 1531.3, 1699.8]) { hl(vx, 153, 1.6, 66); hl(vx, 226, 1.6, 294); }
const colC = [1322, 1474, 1616, 1782];
T("Parameter", colC[0], 169, "cc serif"); T("Value", colC[1], 169, "cc serif");
T("Statistical", colC[2], 169, "cc serif"); T("uncertainty", colC[2], 201.7, "cc serif");
T("Systematic", colC[3], 169, "cc serif"); T("uncertainty", colC[3], 201.7, "cc serif");
tableParams.forEach((p, i) => {
  const y = 240.7 + i * 32.6;
  T(p, colC[0], y, "cc serif"); T(tableValues[i], colC[1], y, "cc serif");
  T(tableStat[i], colC[2], y, "cc serif"); T(tableSyst[i], colC[3], y, "cc serif");
});
</script></body></html>
